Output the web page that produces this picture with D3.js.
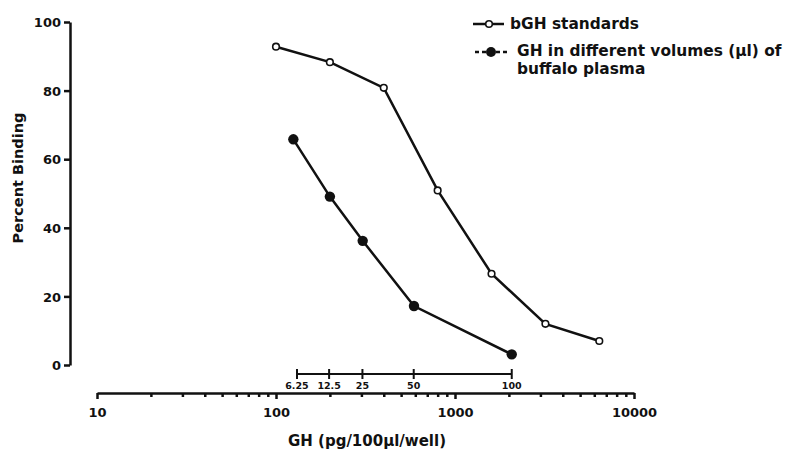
<!DOCTYPE html>
<html lang='en'>
<head>
  <meta charset='UTF-8'>
  <title>GH binding</title>
  <script src='https://d3js.org/d3.v7.min.js'></script>
  <style>
    body { margin: 0; background: #fff; }
    svg text { font-family: 'DejaVu Sans', sans-serif; font-weight: bold; fill: #111; }
  </style>
</head>
<body>
<div id='main'></div>
<script>
  // 标准曲线 bGH
  const stdGH = [100, 200, 400, 800, 1600, 3200, 6400]
  const stdBinding = [92.8, 88.3, 80.8, 50.9, 26.6, 12.0, 7.0]
  // 血浆样品
  const plasmaGH = [125, 200, 305, 590, 2075]
  const plasmaBinding = [65.8, 49.1, 36.2, 17.2, 3.1]
  // 体积副轴
  const volumeLabels = ['6.25', '12.5', '25', '50', '100']
  const volumeGH = [131, 198, 304, 588, 2075]
  const yTicks = [0, 20, 40, 60, 80, 100]
  const xMajor = [10, 100, 1000, 10000]

  const width = 788
  const height = 452
  const ink = '#111'

  const svg = d3.select('#main').append('svg')
    .attr('width', width)
    .attr('height', height)

  const x = d3.scaleLog().domain([10, 10000]).range([97, 634])
  const y = d3.scaleLinear().domain([0, 100]).range([365, 22])

  // y 轴
  const yAxis = svg.append('g')
    .attr('transform', 'translate(70,0)')
    .call(d3.axisLeft(y).tickValues(yTicks).tickSize(6).tickSizeOuter(0).tickPadding(3))
  yAxis.selectAll('text').style('font-size', '13px').attr('dy', '0.36em')

  // x 轴 主刻度
  const xAxis = svg.append('g')
    .attr('transform', 'translate(0,393)')
    .call(d3.axisBottom(x).tickValues(xMajor).tickSize(6).tickSizeOuter(0)
      .tickPadding(9).tickFormat(d3.format('d')))
  xAxis.selectAll('text').style('font-size', '13px')

  // x 轴 次刻度
  const minor = x.ticks().filter(d => xMajor.indexOf(d) < 0)
  svg.append('g')
    .attr('transform', 'translate(0,393)')
    .call(d3.axisBottom(x).tickValues(minor).tickSize(4).tickFormat(''))
    .select('.domain').remove()

  svg.selectAll('.domain, .tick line')
    .attr('stroke', ink)
    .attr('stroke-width', 2.5)

  // 体积副轴
  const vol = svg.append('g')
  vol.append('line')
    .attr('x1', x(volumeGH[0])).attr('x2', x(volumeGH[volumeGH.length - 1]))
    .attr('y1', 374).attr('y2', 374)
    .attr('stroke', ink).attr('stroke-width', 2)
  vol.selectAll('.vt')
    .data(volumeGH)
    .enter().append('line')
    .attr('x1', d => x(d)).attr('x2', d => x(d))
    .attr('y1', 369).attr('y2', 379)
    .attr('stroke', ink).attr('stroke-width', 2)
  vol.selectAll('text')
    .data(volumeGH)
    .enter().append('text')
    .attr('x', d => x(d))
    .attr('y', 389)
    .attr('text-anchor', 'middle')
    .style('font-size', '9.5px')
    .text((d, i) => volumeLabels[i])

  const line = d3.line().x(d => x(d[0])).y(d => y(d[1]))

  // 标准曲线
  const stdData = stdGH.map((d, i) => [d, stdBinding[i]])
  svg.append('path')
    .datum(stdData)
    .attr('d', line)
    .attr('fill', 'none')
    .attr('stroke', ink)
    .attr('stroke-width', 2.5)
  svg.selectAll('.std')
    .data(stdData)
    .enter().append('circle')
    .attr('cx', d => x(d[0]))
    .attr('cy', d => y(d[1]))
    .attr('r', 3.3)
    .attr('fill', '#fff')
    .attr('stroke', ink)
    .attr('stroke-width', 1.6)

  // 样品曲线
  const plasmaData = plasmaGH.map((d, i) => [d, plasmaBinding[i]])
  svg.append('path')
    .datum(plasmaData)
    .attr('d', line)
    .attr('fill', 'none')
    .attr('stroke', ink)
    .attr('stroke-width', 2.5)
  svg.selectAll('.pl')
    .data(plasmaData)
    .enter().append('circle')
    .attr('cx', d => x(d[0]))
    .attr('cy', d => y(d[1]))
    .attr('r', 5.2)
    .attr('fill', ink)

  // 轴标题
  svg.append('text')
    .attr('transform', 'translate(23,178) rotate(-90)')
    .attr('text-anchor', 'middle')
    .style('font-size', '14.5px')
    .text('Percent Binding')
  svg.append('text')
    .attr('x', 367)
    .attr('y', 446)
    .attr('text-anchor', 'middle')
    .style('font-size', '15px')
    .text('GH (pg/100\u00b5l/well)')

  // 图例
  const legend = svg.append('g')
  legend.append('line')
    .attr('x1', 473).attr('x2', 504).attr('y1', 24).attr('y2', 24)
    .attr('stroke', ink).attr('stroke-width', 2.5)
  legend.append('circle')
    .attr('cx', 489).attr('cy', 24).attr('r', 3.3)
    .attr('fill', '#fff').attr('stroke', ink).attr('stroke-width', 1.6)
  legend.append('text')
    .attr('x', 510).attr('y', 29)
    .style('font-size', '15.4px')
    .text('bGH standards')

  legend.append('line')
    .attr('x1', 475).attr('x2', 508).attr('y1', 52).attr('y2', 52)
    .attr('stroke', ink).attr('stroke-width', 2.5)
    .attr('stroke-dasharray', '4,3')
  legend.append('circle')
    .attr('cx', 491).attr('cy', 52).attr('r', 5)
    .attr('fill', ink)
  legend.append('text')
    .attr('x', 517).attr('y', 56)
    .style('font-size', '15.4px')
    .text('GH in different volumes (\u00b5l) of')
  legend.append('text')
    .attr('x', 517).attr('y', 74)
    .style('font-size', '15.4px')
    .text('buffalo plasma')
</script>
</body>
</html>
